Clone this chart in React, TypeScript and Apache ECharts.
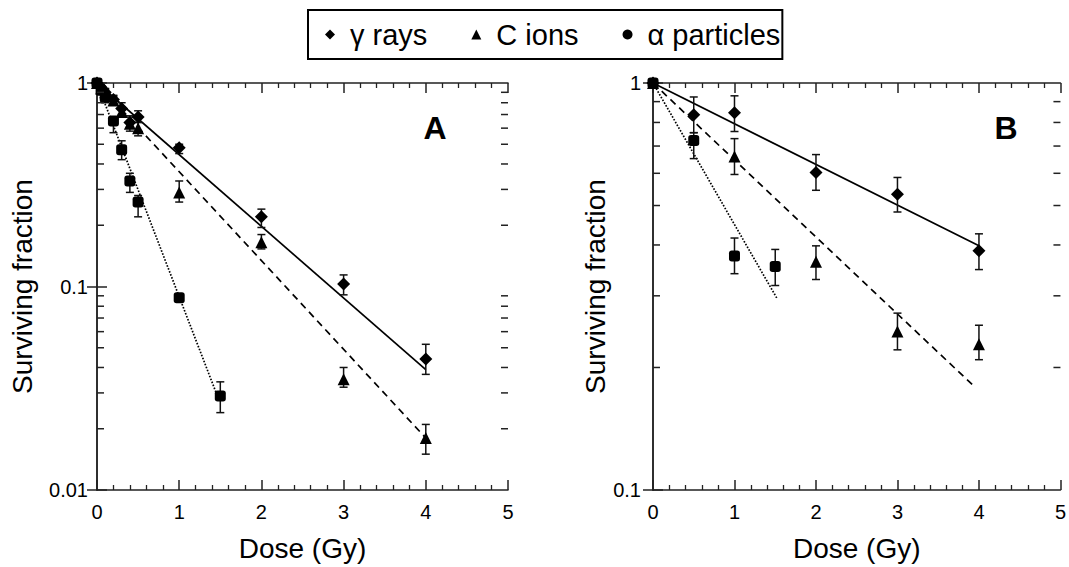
import React, { useEffect, useRef } from "react";
import * as echarts from "echarts";

const FONT = "'Liberation Sans', Arial, sans-serif";
const names = ["γ rays", "C ions", "α particles"];
const doseTicks = [0, 1, 2, 3, 4, 5];

// Panel A
const aGammaDose = [0, 0.05, 0.1, 0.2, 0.3, 0.4, 0.5, 1, 2, 3, 4];
const aGammaSF = [1, 0.95, 0.9, 0.83, 0.75, 0.64, 0.68, 0.48, 0.22, 0.103, 0.044];
const aGammaLo = [1, 0.92, 0.87, 0.79, 0.7, 0.6, 0.64, 0.45, 0.195, 0.091, 0.037];
const aGammaHi = [1, 0.98, 0.93, 0.87, 0.8, 0.69, 0.73, 0.5, 0.24, 0.114, 0.052];

const aCDose = [0, 0.05, 0.1, 0.2, 0.3, 0.4, 0.5, 1, 2, 3, 4];
const aCSF = [1, 0.94, 0.9, 0.82, 0.72, 0.63, 0.6, 0.29, 0.165, 0.035, 0.018];
const aCLo = [1, 0.91, 0.86, 0.78, 0.68, 0.58, 0.55, 0.26, 0.153, 0.032, 0.015];
const aCHi = [1, 0.97, 0.94, 0.86, 0.76, 0.68, 0.64, 0.33, 0.18, 0.04, 0.021];

const aAlphaDose = [0, 0.05, 0.1, 0.2, 0.3, 0.4, 0.5, 1, 1.5];
const aAlphaSF = [1, 0.92, 0.85, 0.65, 0.47, 0.33, 0.26, 0.088, 0.029];
const aAlphaLo = [1, 0.88, 0.8, 0.57, 0.42, 0.29, 0.22, 0.084, 0.024];
const aAlphaHi = [1, 0.96, 0.9, 0.68, 0.52, 0.36, 0.28, 0.092, 0.034];

const aGammaFit = [[0, 1], [4, 0.039]];
const aCFit = [[0, 1], [4, 0.018]];
const aAlphaFit = [[0, 1], [1.45, 0.03]];

// Panel B
const bGammaDose = [0, 0.5, 1, 2, 3, 4];
const bGammaSF = [1, 0.835, 0.845, 0.603, 0.533, 0.387];
const bGammaLo = [1, 0.755, 0.76, 0.545, 0.482, 0.348];
const bGammaHi = [1, 0.924, 0.93, 0.667, 0.586, 0.426];

const bCDose = [0, 1, 2, 3, 4];
const bCSF = [1, 0.66, 0.364, 0.245, 0.228];
const bCLo = [1, 0.596, 0.329, 0.221, 0.209];
const bCHi = [1, 0.73, 0.398, 0.272, 0.254];

const bAlphaDose = [0, 0.5, 1, 1.5];
const bAlphaSF = [1, 0.722, 0.376, 0.354];
const bAlphaLo = [1, 0.652, 0.34, 0.318];
const bAlphaHi = [1, 0.755, 0.416, 0.39];

const bGammaFit = [[0, 1], [4, 0.398]];
const bCFit = [[0, 1], [3.95, 0.179]];
const bAlphaFit = [[0, 1], [1.52, 0.296]];

const aMinorY = [0.02, 0.03, 0.04, 0.05, 0.06, 0.07, 0.08, 0.09, 0.2, 0.3, 0.4, 0.5, 0.6, 0.7, 0.8, 0.9];
const bMinorY = [0.2, 0.3, 0.4, 0.5, 0.6, 0.7, 0.8, 0.9];

const AX = "#222";

function xAxes(grid: number) {
  const base = {
    type: "value",
    gridIndex: grid,
    min: doseTicks[0],
    max: doseTicks[doseTicks.length - 1],
    interval: 1,
    splitLine: { show: false },
    axisLine: { show: true, lineStyle: { color: AX, width: 1.5 } },
    axisTick: { show: true, inside: true, length: 10, lineStyle: { color: AX, width: 1.5 } },
    minorTick: { show: true, splitNumber: 5, length: 5, lineStyle: { color: AX, width: 1.3 } },
  };
  return [
    {
      ...base,
      position: "bottom",
      axisLabel: { show: true, fontSize: 20, fontFamily: FONT, color: "#000", margin: 12 },
      name: "Dose (Gy)",
      nameLocation: "middle",
      nameGap: 44,
      nameTextStyle: { fontSize: 28, fontFamily: FONT, color: "#000" },
    },
    { ...base, position: "top", axisLabel: { show: false } },
  ];
}

function yAxes(grid: number, min: number, labelMargin: number, nameGap: number) {
  const base = {
    type: "log",
    logBase: 10,
    gridIndex: grid,
    min,
    max: 1,
    splitLine: { show: false },
    axisLine: { show: true, lineStyle: { color: AX, width: 1.5 } },
    axisTick: { show: true, inside: true, length: 10, lineStyle: { color: AX, width: 1.5 } },
  };
  return [
    {
      ...base,
      position: "left",
      axisLabel: {
        show: true,
        fontSize: 20,
        fontFamily: FONT,
        color: "#000",
        margin: labelMargin,
        formatter: (v: number) => String(+Number(v).toPrecision(2)),
      },
      name: "Surviving fraction",
      nameLocation: "middle",
      nameGap,
      nameTextStyle: { fontSize: 28, fontFamily: FONT, color: "#000" },
    },
    { ...base, position: "right", axisLabel: { show: false } },
  ];
}

function scatter(name: string, symbol: string, size: number, dose: number[], sf: number[], xi: number, yi: number) {
  return {
    type: "scatter",
    name,
    symbol,
    symbolSize: size,
    xAxisIndex: xi,
    yAxisIndex: yi,
    itemStyle: { color: "#000", opacity: 1 },
    data: dose.map((d, i) => [d, sf[i]]),
    z: 5,
  };
}

function errBars(name: string, dose: number[], lo: number[], hi: number[], xi: number, yi: number) {
  return {
    type: "custom",
    name: name + " error",
    xAxisIndex: xi,
    yAxisIndex: yi,
    silent: true,
    z: 4,
    data: dose.map((d, i) => [d, lo[i], hi[i]]),
    encode: { x: 0, y: [1, 2] },
    renderItem: (_p: any, api: any) => {
      const x = api.value(0);
      const p1 = api.coord([x, api.value(2)]);
      const p2 = api.coord([x, api.value(1)]);
      const w = 4;
      const st = { stroke: "#111", lineWidth: 1.5 };
      return {
        type: "group",
        children: [
          { type: "line", shape: { x1: p1[0], y1: p1[1], x2: p2[0], y2: p2[1] }, style: st },
          { type: "line", shape: { x1: p1[0] - w, y1: p1[1], x2: p1[0] + w, y2: p1[1] }, style: st },
          { type: "line", shape: { x1: p2[0] - w, y1: p2[1], x2: p2[0] + w, y2: p2[1] }, style: st },
        ],
      };
    },
  };
}

function fit(name: string, data: number[][], lineType: any, xi: number, yi: number) {
  return {
    type: "line",
    name,
    xAxisIndex: xi,
    yAxisIndex: yi,
    data,
    symbol: "none",
    silent: true,
    z: 3,
    lineStyle: { color: "#000", width: 1.7, type: lineType },
  };
}

function minorY(values: number[], xi: number, yi: number) {
  return {
    type: "custom",
    name: "minor ticks " + xi,
    xAxisIndex: xi,
    yAxisIndex: yi,
    silent: true,
    z: 6,
    data: values.map((v) => [2.5, v]),
    encode: { x: 0, y: 1 },
    renderItem: (params: any, api: any) => {
      const p = api.coord([api.value(0), api.value(1)]);
      const cs = params.coordSys;
      const left = cs.x;
      const right = cs.x + cs.width;
      const st = { stroke: AX, lineWidth: 1.5 };
      return {
        type: "group",
        children: [
          { type: "line", shape: { x1: left, y1: p[1], x2: left + 7, y2: p[1] }, style: st },
          { type: "line", shape: { x1: right, y1: p[1], x2: right - 7, y2: p[1] }, style: st },
        ],
      };
    },
  };
}

export default function App() {
  const ref = useRef<HTMLDivElement>(null);
  useEffect(() => {
    if (!ref.current) return;
    const chart = echarts.init(ref.current, undefined, { renderer: "svg" });
    const option: any = {
      animation: false,
      backgroundColor: "#fff",
      textStyle: { fontFamily: FONT },
      legend: {
        left: 308,
        top: 10,
        orient: "horizontal",
        padding: [10, 2, 10, 17],
        borderColor: "#000",
        borderWidth: 2,
        itemWidth: 10,
        itemHeight: 10,
        itemGap: 44,
        selectedMode: false,
        itemStyle: { opacity: 1 },
        textStyle: { fontSize: 29, fontFamily: FONT, color: "#000", padding: [0, 0, 0, 10] },
        data: [
          { name: names[0], icon: "diamond" },
          { name: names[1], icon: "triangle" },
          { name: names[2], icon: "circle" },
        ],
      },
      grid: [
        { left: 97, top: 83, width: 411, height: 411, containLabel: false },
        { left: 653, top: 83, width: 411, height: 411, containLabel: false },
      ],
      xAxis: [...xAxes(0), ...xAxes(1)],
      yAxis: [...yAxes(0, 0.01, 9, 61), ...yAxes(1, 0.1, 12, 27)],
      graphic: [
        { type: "text", x: 435, y: 128, style: { text: "A", font: `bold 32px ${FONT}`, fill: "#000", textAlign: "center", textVerticalAlign: "middle" } },
        { type: "text", x: 1006, y: 128, style: { text: "B", font: `bold 32px ${FONT}`, fill: "#000", textAlign: "center", textVerticalAlign: "middle" } },
      ],
      series: [
        minorY(aMinorY, 0, 0),
        minorY(bMinorY, 2, 2),
        fit("γ fit A", aGammaFit, "solid", 0, 0),
        fit("C fit A", aCFit, [7, 5], 0, 0),
        fit("α fit A", aAlphaFit, [1.6, 1.6], 0, 0),
        fit("γ fit B", bGammaFit, "solid", 2, 2),
        fit("C fit B", bCFit, [7, 5], 2, 2),
        fit("α fit B", bAlphaFit, [1.6, 1.6], 2, 2),
        errBars("γ A", aGammaDose, aGammaLo, aGammaHi, 0, 0),
        errBars("C A", aCDose, aCLo, aCHi, 0, 0),
        errBars("α A", aAlphaDose, aAlphaLo, aAlphaHi, 0, 0),
        errBars("γ B", bGammaDose, bGammaLo, bGammaHi, 2, 2),
        errBars("C B", bCDose, bCLo, bCHi, 2, 2),
        errBars("α B", bAlphaDose, bAlphaLo, bAlphaHi, 2, 2),
        scatter(names[0], "diamond", 13, aGammaDose, aGammaSF, 0, 0),
        scatter(names[1], "triangle", 12, aCDose, aCSF, 0, 0),
        scatter(names[2], "roundRect", 11, aAlphaDose, aAlphaSF, 0, 0),
        scatter(names[0], "diamond", 13, bGammaDose, bGammaSF, 2, 2),
        scatter(names[1], "triangle", 12, bCDose, bCSF, 2, 2),
        scatter(names[2], "roundRect", 11, bAlphaDose, bAlphaSF, 2, 2),
      ],
    };
    chart.setOption(option);
    return () => chart.dispose();
  }, []);
  return (
    <div
      ref={ref}
      style={{ position: "fixed", left: 0, top: 0, width: 1069, height: 567, background: "#fff" }}
    />
  );
}
